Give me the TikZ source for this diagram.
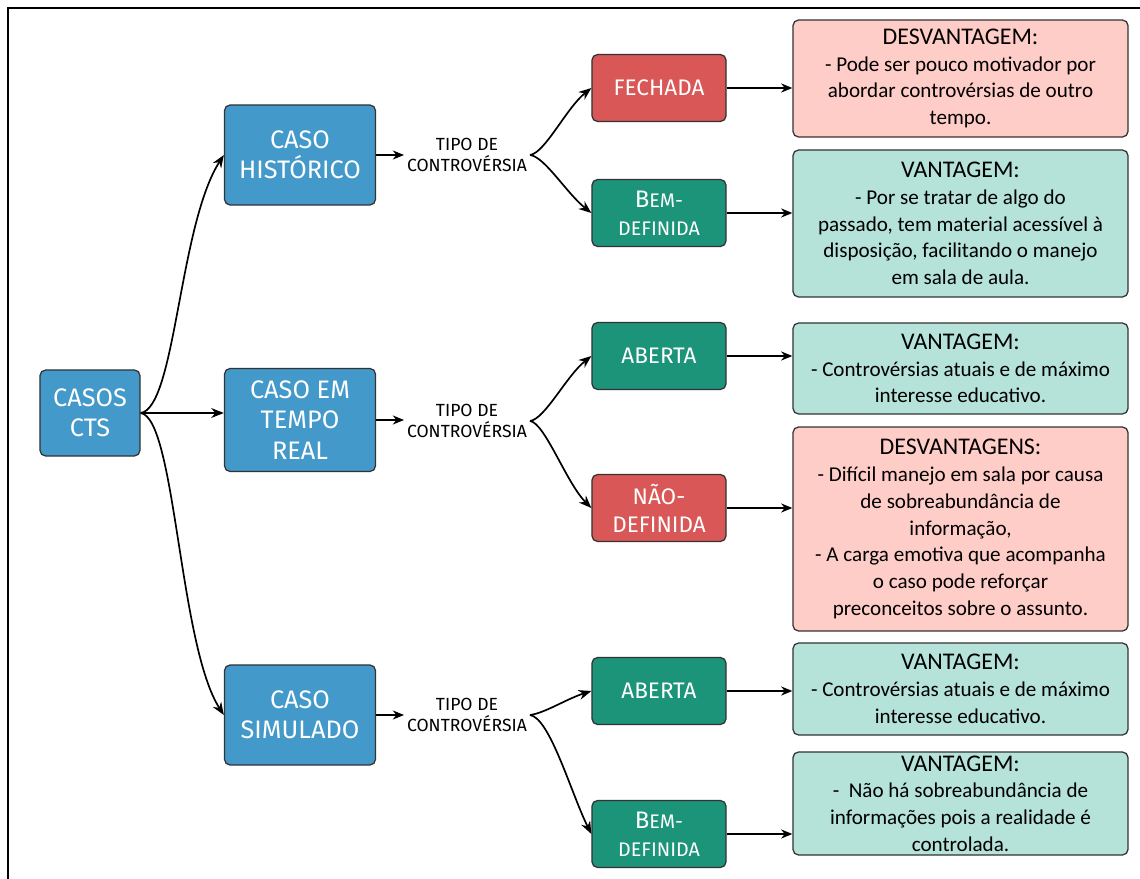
\documentclass[tikz,border=0pt]{standalone}
\usepackage{fontspec}
\setmainfont{Carlito}
\newfontfamily\boxfont{Fira Sans}
\usetikzlibrary{arrows.meta}
\definecolor{cblue}{RGB}{67,153,202}
\definecolor{cred}{RGB}{217,87,87}
\definecolor{cgreen}{RGB}{27,148,122}
\definecolor{cpink}{RGB}{255,205,200}
\definecolor{cteal}{RGB}{181,226,217}
\definecolor{cborder}{RGB}{51,51,51}
\newcommand{\hdr}[1]{{\fontsize{17}{20}\selectfont #1}}
\newcommand{\bemtxt}{{\fontsize{17}{20}\selectfont B\fontsize{14}{20}\selectfont EM-}\\{\fontsize{14}{20}\selectfont DEFINIDA}}
\begin{document}
\begin{tikzpicture}[x=0.025cm,y=-0.025cm,
  base/.style={draw=cborder, line width=0.9pt, rounded corners=4pt, align=center, inner sep=0pt},
  bluebox/.style={base, fill=cblue, text=white, font=\boxfont\fontsize{18}{21.5}\selectfont, minimum width=3.775cm, minimum height=2.5cm},
  smallbox/.style={base, text=white, font=\boxfont\fontsize{16}{20}\selectfont, minimum width=3.35cm, minimum height=1.675cm},
  redbox/.style={smallbox, fill=cred},
  greenbox/.style={smallbox, fill=cgreen},
  infobox/.style={base, text=black, font=\fontsize{15}{19}\selectfont, minimum width=8.375cm},
  pinkbox/.style={infobox, fill=cpink},
  tealbox/.style={infobox, fill=cteal},
  tipo/.style={align=center, inner sep=2pt, font=\boxfont\fontsize{12.5}{15.5}\selectfont},
  arr/.style={-{Stealth[length=8pt,width=6.5pt]}, line width=0.9pt, draw=black},
  arrb/.style={-{Stealth[length=9pt,width=7pt]}, line width=1.2pt, draw=black}
]
\useasboundingbox (0,0) rectangle (1140,879);
\draw[line width=1.3pt] (8,879) -- (8,8) -- (1140,8);

% left column
\node[bluebox, minimum width=2.5cm, minimum height=2.15cm] (cts) at (90,413) {CASOS\\CTS};
\node[bluebox] (hist) at (300,155) {CASO\\HISTÓRICO};
\node[bluebox, minimum height=2.575cm] (real) at (300,420) {CASO EM\\TEMPO\\REAL};
\node[bluebox] (sim) at (300,715) {CASO\\SIMULADO};

% labels
\node[tipo] (t1) at (467,155) {TIPO DE\\CONTROVÉRSIA};
\node[tipo] (t2) at (467,421) {TIPO DE\\CONTROVÉRSIA};
\node[tipo] (t3) at (467,715) {TIPO DE\\CONTROVÉRSIA};

% middle column
\node[redbox] (fech) at (659,88) {FECHADA};
\node[greenbox] (bem1) at (659,213) {\bemtxt};
\node[greenbox] (ab1) at (659,356) {ABERTA};
\node[redbox] (nao) at (659,508) {NÃO-\\DEFINIDA};
\node[greenbox] (ab2) at (659,691) {ABERTA};
\node[greenbox] (bem3) at (659,834) {\bemtxt};

% right column
\node[pinkbox, minimum height=2.925cm] (d1) at (960.5,78.5) {\hdr{DESVANTAGEM:}\\- Pode ser pouco motivador por\\abordar controvérsias de outro\\tempo.};
\node[tealbox, minimum height=3.675cm] (v1) at (960.5,223.5) {\hdr{VANTAGEM:}\\- Por se tratar de algo do\\passado, tem material acessível à\\disposição, facilitando o manejo\\em sala de aula.};
\node[tealbox, minimum height=2.275cm] (v2) at (960.5,368.5) {\hdr{VANTAGEM:}\\- Controvérsias atuais e de máximo\\interesse educativo.};
\node[pinkbox, minimum height=5.1cm] (d2) at (960.5,529) {\hdr{DESVANTAGENS:}\\- Difícil manejo em sala por causa\\de sobreabundância de\\informação,\\- A carga emotiva que acompanha\\o caso pode reforçar\\preconceitos sobre o assunto.};
\node[tealbox, minimum height=2.3cm] (v3) at (960.5,689) {\hdr{VANTAGEM:}\\- Controvérsias atuais e de máximo\\interesse educativo.};
\node[tealbox, minimum height=2.575cm] (v4) at (960.5,803.5) {\hdr{VANTAGEM:}\\-\ \ Não há sobreabundância de\\informações pois a realidade é\\controlada.};

% connectors from CASOS CTS
\draw[arrb] (cts.east) .. controls +(35,-5) and +(-45,70) .. (hist.west);
\draw[arrb] (cts.east) -- (cts.east -| real.west);
\draw[arrb] (cts.east) .. controls +(35,5) and +(-45,-70) .. (sim.west);

% to labels
\draw[arr] (hist.east) -- (t1.west);
\draw[arr] (real.east) -- (real.east -| t2.west);
\draw[arr] (sim.east) -- (t3.west);

% branches
\draw[arrb] (t1.east) .. controls +(15,-2) and +(-25,20) .. (fech.west);
\draw[arrb] (t1.east) .. controls +(15,2) and +(-25,-20) .. (bem1.west);
\draw[arrb] (t2.east) .. controls +(15,-2) and +(-25,20) .. (ab1.west);
\draw[arrb] (t2.east) .. controls +(15,2) and +(-25,-25) .. (nao.west);
\draw[arrb] (t3.east) .. controls +(15,-2) and +(-25,8) .. (ab2.west);
\draw[arrb] (t3.east) .. controls +(20,3) and +(-20,-40) .. (bem3.west);

% to info boxes
\draw[arr] (fech.east) -- (fech.east -| d1.west);
\draw[arr] (bem1.east) -- (bem1.east -| v1.west);
\draw[arr] (ab1.east) -- (ab1.east -| v2.west);
\draw[arr] (nao.east) -- (nao.east -| d2.west);
\draw[arr] (ab2.east) -- (ab2.east -| v3.west);
\draw[arr] (bem3.east) -- (bem3.east -| v4.west);
\end{tikzpicture}
\end{document}
